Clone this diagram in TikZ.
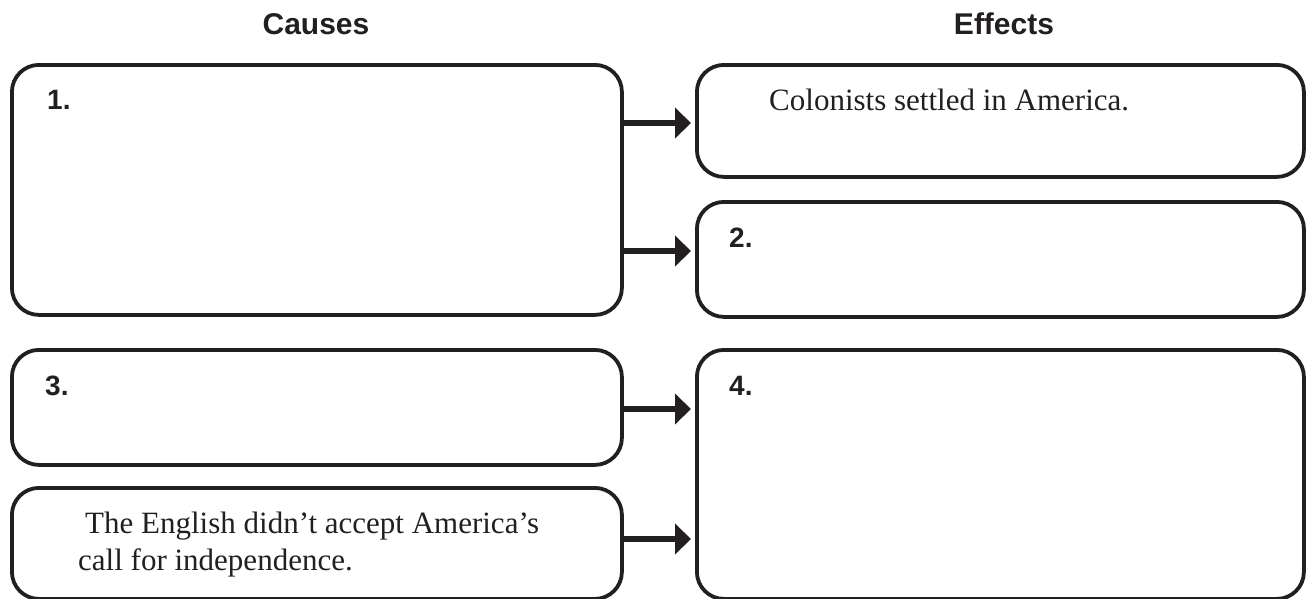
\documentclass[tikz,border=0pt]{standalone}
\usepackage{fontspec}
\setmainfont{Liberation Serif}
\newfontfamily\headfont{Liberation Sans}
\usetikzlibrary{arrows.meta}
\definecolor{ink}{HTML}{231F20}
\begin{document}
\begin{tikzpicture}[x=1pt,y=-1pt,
  box/.style={draw=ink,line width=3.8pt,rounded corners=27pt,inner sep=0pt,anchor=north west},
  num/.style={anchor=base west,inner sep=0pt,font=\headfont\bfseries\fontsize{28}{30}\selectfont,text=ink},
  head/.style={anchor=base,inner sep=0pt,font=\headfont\bfseries\fontsize{30}{32}\selectfont,text=ink},
  body/.style={anchor=base west,inner sep=0pt,font=\fontsize{31}{37}\selectfont,text=ink},
  arr/.style={draw=ink,line width=6.5pt,-{Triangle[length=16pt,width=30pt]}}]
\useasboundingbox (0,0) rectangle (1306,598);
\node[head] (hc) at (316,34) {Causes};
\node[head] (he) at (1004,34) {Effects};
% boxes
\node[box,minimum width=610pt,minimum height=250pt] (b1) at (10,63) {};
\node[box,minimum width=607pt,minimum height=112pt] (e1) at (695,63) {};
\node[box,minimum width=607pt,minimum height=115pt] (e2) at (695,200) {};
\node[box,minimum width=610pt,minimum height=115pt] (b3) at (10,348) {};
\node[box,minimum width=610pt,minimum height=111pt] (b4) at (10,486) {};
\node[box,minimum width=607pt,minimum height=249pt] (e4) at (695,348) {};
% texts
\node[num] (n1) at (47,109) {1.};
\node[num] (n2) at (729,247) {2.};
\node[num] (n3) at (45,395) {3.};
\node[num] (n4) at (729,395) {4.};
\node[body] (t1) at (769,110) {Colonists settled in America.};
\node[body] (t2) at (85,533) {The English didn’t accept America’s};
\node[body] (t3) at (78,570) {call for independence.};
% arrows
\coordinate (y1) at (0,123);
\coordinate (y2) at (0,251);
\coordinate (y3) at (0,409);
\coordinate (y4) at (0,539);
\draw[arr] (b1.east |- y1) -- ([xshift=-4pt]e1.west |- y1);
\draw[arr] (b1.east |- y2) -- ([xshift=-4pt]e2.west |- y2);
\draw[arr] (b3.east |- y3) -- ([xshift=-4pt]e4.west |- y3);
\draw[arr] (b4.east |- y4) -- ([xshift=-4pt]e4.west |- y4);
\end{tikzpicture}
\end{document}
